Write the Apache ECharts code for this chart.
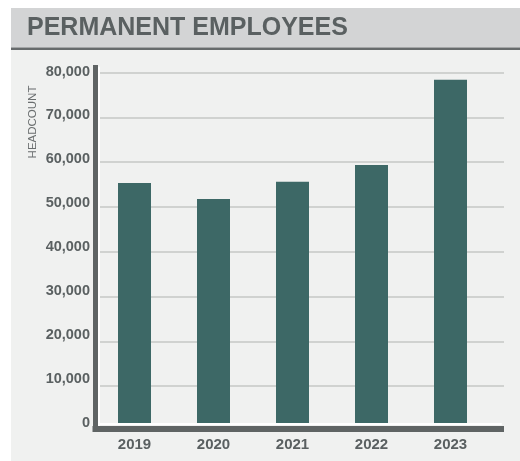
<!DOCTYPE html>
<html>
<head>
<meta charset="utf-8">
<script src="https://cdn.jsdelivr.net/npm/echarts@6/dist/echarts.min.js"></script>
<style>
  html, body { margin: 0; padding: 0; background: #ffffff; }
  #chart { width: 520px; height: 461px; }
</style>
</head>
<body>
<div id="chart"></div>
<script>
// permanent employees - headcount by year
const titleText = 'PERMANENT EMPLOYEES';
const axisTitle = 'HEADCOUNT';
const years = ['2019', '2020', '2021', '2022', '2023'];
const headcount = [54600, 51000, 54900, 58700, 78100];
const yMin = 0;
const yMax = 80000;
const yStep = 10000;

const textGray = '#5a6061';
const frameGray = '#5f6464';
const barColor = '#3d6866';

const myChart = echarts.init(document.getElementById('chart'));

const option = {
  animation: false,
  backgroundColor: '#ffffff',
  graphic: [
    { type: 'rect', z: -10, shape: { x: 11, y: 8, width: 509, height: 453 }, style: { fill: '#f0f1f0' } },
    { type: 'rect', z: -9, shape: { x: 11, y: 8, width: 509, height: 39.5 }, style: { fill: '#d3d4d5' } },
    { type: 'rect', z: -9, shape: { x: 11, y: 47.5, width: 509, height: 2.5 }, style: { fill: '#676b6c' } },
    {
      type: 'text', x: 33, y: 122, rotation: Math.PI / 2,
      style: {
        text: axisTitle, fill: '#6a6e6f', fontSize: 11.5,
        fontFamily: 'Liberation Sans', align: 'center', verticalAlign: 'middle'
      }
    }
  ],
  title: {
    text: titleText,
    left: 27,
    top: 15.5,
    padding: 0,
    textStyle: { color: textGray, fontSize: 25, fontWeight: 'bold', fontFamily: 'Liberation Sans' }
  },
  grid: [
    // bars + tick labels
    { left: 95, right: 30, top: 71.5, bottom: 38 },
    // gridlines
    { left: 100, right: 16, top: 72.5, bottom: 30 },
    // L-shaped frame
    { left: 95.5, right: 19, top: 67.5, bottom: 32 }
  ],
  xAxis: [
    {
      gridIndex: 0,
      type: 'category',
      data: years,
      axisLine: { show: false },
      axisTick: { show: false },
      axisLabel: { margin: 14, color: textGray, fontSize: 15, fontWeight: 'bold', fontFamily: 'Liberation Sans' }
    },
    { gridIndex: 1, type: 'value', show: false },
    {
      gridIndex: 2, type: 'value', z: 5,
      axisLine: { show: true, lineStyle: { color: frameGray, width: 6, cap: 'square' } },
      axisTick: { show: false }, axisLabel: { show: false }, splitLine: { show: false }
    },
    {
      gridIndex: 2, type: 'value', position: 'bottom', offset: -5, z: 4,
      axisLine: { show: true, lineStyle: { color: '#ffffff', width: 2 } },
      axisTick: { show: false }, axisLabel: { show: false }, splitLine: { show: false }
    }
  ],
  yAxis: [
    {
      gridIndex: 0,
      type: 'value',
      min: yMin, max: yMax, interval: yStep,
      axisLine: { show: false },
      axisTick: { show: false },
      splitLine: { show: false },
      axisLabel: {
        margin: 5, color: textGray, fontSize: 14.5, fontWeight: 'bold', fontFamily: 'Liberation Sans',
        formatter: v => v.toLocaleString('en-US')
      }
    },
    {
      gridIndex: 1,
      type: 'value',
      min: yMin, max: yMax, interval: yStep,
      axisLine: { show: false }, axisTick: { show: false }, axisLabel: { show: false },
      splitLine: { show: true, lineStyle: { color: '#c6c7c6', width: 1.5 } }
    },
    {
      gridIndex: 2, type: 'value', z: 5,
      axisLine: { show: true, lineStyle: { color: frameGray, width: 5, cap: 'square' } },
      axisTick: { show: false }, axisLabel: { show: false }, splitLine: { show: false }
    },
    {
      gridIndex: 2, type: 'value', position: 'left', offset: -3.5, z: 4,
      axisLine: { show: true, lineStyle: { color: '#ffffff', width: 2 } },
      axisTick: { show: false }, axisLabel: { show: false }, splitLine: { show: false }
    }
  ],
  series: [
    {
      name: 'Headcount',
      type: 'bar',
      xAxisIndex: 0,
      yAxisIndex: 0,
      data: headcount,
      barWidth: 33,
      itemStyle: { color: barColor },
      z: 6
    }
  ]
};

myChart.setOption(option);
</script>
</body>
</html>
